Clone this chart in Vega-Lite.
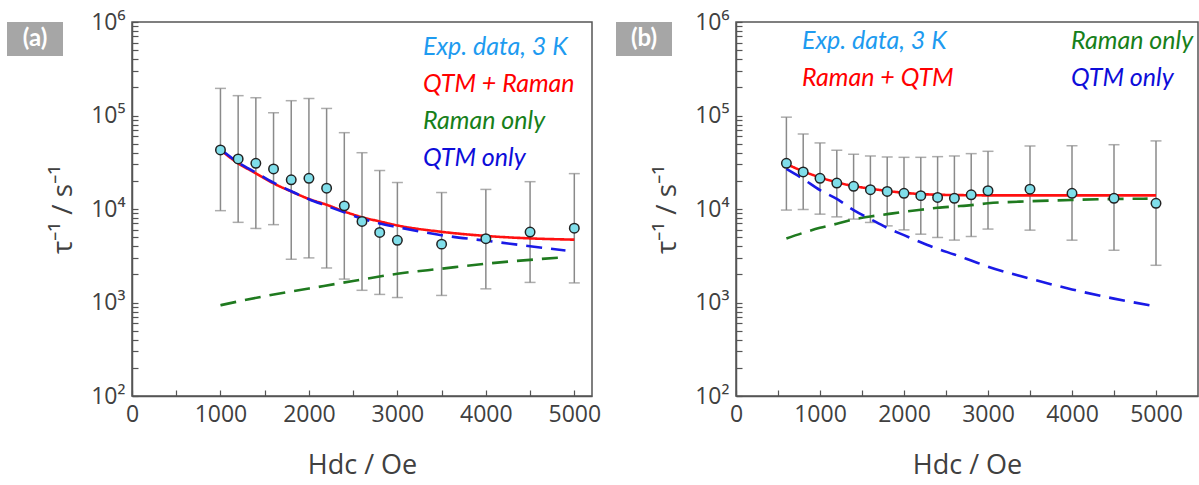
{
  "$schema": "https://vega.github.io/schema/vega-lite/v6.json",
  "background": "white",
  "padding": {"left": 7, "top": 10, "right": 1, "bottom": 5},
  "spacing": 14,
  "datasets": {
    "ptsA": [
      {"H": 1000, "tau": 42800, "lo": 9600, "hi": 195000, "series": "Exp. data, 3 K"},
      {"H": 1200, "tau": 34300, "lo": 7200, "hi": 163000, "series": "Exp. data, 3 K"},
      {"H": 1400, "tau": 30800, "lo": 6200, "hi": 155000, "series": "Exp. data, 3 K"},
      {"H": 1600, "tau": 26800, "lo": 6800, "hi": 107000, "series": "Exp. data, 3 K"},
      {"H": 1800, "tau": 20500, "lo": 2900, "hi": 144000, "series": "Exp. data, 3 K"},
      {"H": 2000, "tau": 21300, "lo": 3000, "hi": 152000, "series": "Exp. data, 3 K"},
      {"H": 2200, "tau": 16700, "lo": 2340, "hi": 119000, "series": "Exp. data, 3 K"},
      {"H": 2400, "tau": 10800, "lo": 1780, "hi": 65500, "series": "Exp. data, 3 K"},
      {"H": 2600, "tau": 7360, "lo": 1350, "hi": 40000, "series": "Exp. data, 3 K"},
      {"H": 2800, "tau": 5610, "lo": 1220, "hi": 25800, "series": "Exp. data, 3 K"},
      {"H": 3000, "tau": 4620, "lo": 1130, "hi": 19200, "series": "Exp. data, 3 K"},
      {"H": 3500, "tau": 4210, "lo": 1190, "hi": 15000, "series": "Exp. data, 3 K"},
      {"H": 4000, "tau": 4810, "lo": 1400, "hi": 16200, "series": "Exp. data, 3 K"},
      {"H": 4500, "tau": 5660, "lo": 1640, "hi": 19600, "series": "Exp. data, 3 K"},
      {"H": 5000, "tau": 6240, "lo": 1620, "hi": 23900, "series": "Exp. data, 3 K"}
    ],
    "fitA": [
      {"H": 1000, "tau": 42900, "series": "QTM + Raman"},
      {"H": 1200, "tau": 30800, "series": "QTM + Raman"},
      {"H": 1400, "tau": 24100, "series": "QTM + Raman"},
      {"H": 1600, "tau": 18800, "series": "QTM + Raman"},
      {"H": 1800, "tau": 15400, "series": "QTM + Raman"},
      {"H": 2000, "tau": 12800, "series": "QTM + Raman"},
      {"H": 2200, "tau": 11100, "series": "QTM + Raman"},
      {"H": 2400, "tau": 9400, "series": "QTM + Raman"},
      {"H": 2600, "tau": 8180, "series": "QTM + Raman"},
      {"H": 2800, "tau": 7360, "series": "QTM + Raman"},
      {"H": 3000, "tau": 6670, "series": "QTM + Raman"},
      {"H": 3500, "tau": 5700, "series": "QTM + Raman"},
      {"H": 4000, "tau": 5150, "series": "QTM + Raman"},
      {"H": 4500, "tau": 4850, "series": "QTM + Raman"},
      {"H": 5000, "tau": 4700, "series": "QTM + Raman"},
      {"H": 1000, "tau": 935, "series": "Raman only"},
      {"H": 1500, "tau": 1170, "series": "Raman only"},
      {"H": 2000, "tau": 1410, "series": "Raman only"},
      {"H": 2500, "tau": 1700, "series": "Raman only"},
      {"H": 3000, "tau": 2030, "series": "Raman only"},
      {"H": 3500, "tau": 2300, "series": "Raman only"},
      {"H": 4000, "tau": 2600, "series": "Raman only"},
      {"H": 4500, "tau": 2860, "series": "Raman only"},
      {"H": 4900, "tau": 3050, "series": "Raman only"},
      {"H": 1000, "tau": 43500, "series": "QTM only"},
      {"H": 1200, "tau": 31500, "series": "QTM only"},
      {"H": 1400, "tau": 24500, "series": "QTM only"},
      {"H": 1600, "tau": 19100, "series": "QTM only"},
      {"H": 1800, "tau": 15500, "series": "QTM only"},
      {"H": 2000, "tau": 12700, "series": "QTM only"},
      {"H": 2200, "tau": 10800, "series": "QTM only"},
      {"H": 2400, "tau": 9200, "series": "QTM only"},
      {"H": 2600, "tau": 7900, "series": "QTM only"},
      {"H": 2800, "tau": 7000, "series": "QTM only"},
      {"H": 3000, "tau": 6400, "series": "QTM only"},
      {"H": 3500, "tau": 5250, "series": "QTM only"},
      {"H": 4000, "tau": 4580, "series": "QTM only"},
      {"H": 4500, "tau": 4000, "series": "QTM only"},
      {"H": 4900, "tau": 3600, "series": "QTM only"}
    ],
    "ptsB": [
      {"H": 600, "tau": 30800, "lo": 9740, "hi": 96000, "series": "Exp. data, 3 K"},
      {"H": 800, "tau": 24900, "lo": 9900, "hi": 63500, "series": "Exp. data, 3 K"},
      {"H": 1000, "tau": 21300, "lo": 8810, "hi": 50900, "series": "Exp. data, 3 K"},
      {"H": 1200, "tau": 18950, "lo": 8240, "hi": 42500, "series": "Exp. data, 3 K"},
      {"H": 1400, "tau": 17500, "lo": 7800, "hi": 38500, "series": "Exp. data, 3 K"},
      {"H": 1600, "tau": 16100, "lo": 7180, "hi": 36900, "series": "Exp. data, 3 K"},
      {"H": 1800, "tau": 15400, "lo": 6600, "hi": 36000, "series": "Exp. data, 3 K"},
      {"H": 2000, "tau": 14700, "lo": 5980, "hi": 35700, "series": "Exp. data, 3 K"},
      {"H": 2200, "tau": 13900, "lo": 5380, "hi": 35700, "series": "Exp. data, 3 K"},
      {"H": 2400, "tau": 13300, "lo": 4960, "hi": 36300, "series": "Exp. data, 3 K"},
      {"H": 2600, "tau": 13000, "lo": 4650, "hi": 36900, "series": "Exp. data, 3 K"},
      {"H": 2800, "tau": 14200, "lo": 5080, "hi": 39100, "series": "Exp. data, 3 K"},
      {"H": 3000, "tau": 15700, "lo": 6100, "hi": 41400, "series": "Exp. data, 3 K"},
      {"H": 3500, "tau": 16300, "lo": 5940, "hi": 47200, "series": "Exp. data, 3 K"},
      {"H": 4000, "tau": 14700, "lo": 4640, "hi": 47500, "series": "Exp. data, 3 K"},
      {"H": 4500, "tau": 13000, "lo": 3620, "hi": 48700, "series": "Exp. data, 3 K"},
      {"H": 5000, "tau": 11500, "lo": 2500, "hi": 53500, "series": "Exp. data, 3 K"}
    ],
    "fitB": [
      {"H": 600, "tau": 30300, "series": "Raman + QTM"},
      {"H": 800, "tau": 25300, "series": "Raman + QTM"},
      {"H": 1000, "tau": 21800, "series": "Raman + QTM"},
      {"H": 1200, "tau": 19300, "series": "Raman + QTM"},
      {"H": 1400, "tau": 17600, "series": "Raman + QTM"},
      {"H": 1600, "tau": 16500, "series": "Raman + QTM"},
      {"H": 1800, "tau": 15600, "series": "Raman + QTM"},
      {"H": 2000, "tau": 14900, "series": "Raman + QTM"},
      {"H": 2200, "tau": 14450, "series": "Raman + QTM"},
      {"H": 2400, "tau": 14200, "series": "Raman + QTM"},
      {"H": 2600, "tau": 14100, "series": "Raman + QTM"},
      {"H": 3000, "tau": 14000, "series": "Raman + QTM"},
      {"H": 4000, "tau": 14000, "series": "Raman + QTM"},
      {"H": 5000, "tau": 14000, "series": "Raman + QTM"},
      {"H": 600, "tau": 4830, "series": "Raman only"},
      {"H": 800, "tau": 5560, "series": "Raman only"},
      {"H": 1000, "tau": 6290, "series": "Raman only"},
      {"H": 1200, "tau": 6950, "series": "Raman only"},
      {"H": 1400, "tau": 7730, "series": "Raman only"},
      {"H": 1600, "tau": 8320, "series": "Raman only"},
      {"H": 1800, "tau": 8810, "series": "Raman only"},
      {"H": 2000, "tau": 9330, "series": "Raman only"},
      {"H": 2200, "tau": 9810, "series": "Raman only"},
      {"H": 2400, "tau": 10300, "series": "Raman only"},
      {"H": 2600, "tau": 10640, "series": "Raman only"},
      {"H": 2800, "tau": 10990, "series": "Raman only"},
      {"H": 3000, "tau": 11500, "series": "Raman only"},
      {"H": 3500, "tau": 12100, "series": "Raman only"},
      {"H": 4000, "tau": 12500, "series": "Raman only"},
      {"H": 4500, "tau": 12800, "series": "Raman only"},
      {"H": 4900, "tau": 12900, "series": "Raman only"},
      {"H": 600, "tau": 26800, "series": "QTM only"},
      {"H": 800, "tau": 20900, "series": "QTM only"},
      {"H": 1000, "tau": 15900, "series": "QTM only"},
      {"H": 1200, "tau": 12800, "series": "QTM only"},
      {"H": 1400, "tau": 9730, "series": "QTM only"},
      {"H": 1600, "tau": 7800, "series": "QTM only"},
      {"H": 1800, "tau": 6290, "series": "QTM only"},
      {"H": 2000, "tau": 5250, "series": "QTM only"},
      {"H": 2200, "tau": 4410, "series": "QTM only"},
      {"H": 2400, "tau": 3750, "series": "QTM only"},
      {"H": 2600, "tau": 3260, "series": "QTM only"},
      {"H": 2800, "tau": 2810, "series": "QTM only"},
      {"H": 3000, "tau": 2420, "series": "QTM only"},
      {"H": 3500, "tau": 1800, "series": "QTM only"},
      {"H": 4000, "tau": 1380, "series": "QTM only"},
      {"H": 4500, "tau": 1100, "series": "QTM only"},
      {"H": 5000, "tau": 910, "series": "QTM only"}
    ],
    "labA": [{"label": "(a)"}],
    "labB": [{"label": "(b)"}]
  },
  "hconcat": [
    {
      "spacing": -15,
      "hconcat": [
        {
          "width": 56, "height": 34,
          "data": {"name": "labA"},
          "view": {"stroke": null},
          "layer": [
            {"mark": {"type": "rect", "color": "#a6a6a6"}, "encoding": {}},
            {"mark": {"type": "text", "color": "white", "font": "Lato", "fontSize": 24, "fontWeight": "bold"}, "encoding": {"text": {"field": "label"}}}
          ]
        },
        {
          "width": 460, "height": 374,
          "layer": [
            {
              "data": {"name": "ptsA"},
              "mark": {"type": "rule", "color": "#8a8a8a", "strokeWidth": 1.5},
              "encoding": {
                "x": {"field": "H", "type": "quantitative", "scale": {"domain": [0, 5200], "nice": false},
                  "axis": {"values": [0, 500, 1000, 1500, 2000, 2500, 3000, 3500, 4000, 4500, 5000], "format": "d", "labelExpr": "datum.value % 1000 == 0 ? datum.label : ''", "title": "Hdc / Oe", "titlePadding": 26}},
                "y": {"field": "lo", "type": "quantitative", "scale": {"type": "log", "domain": [100, 1000000], "nice": false},
                  "axis": {"values": [100, 200, 300, 400, 500, 600, 700, 800, 900, 1000, 2000, 3000, 4000, 5000, 6000, 7000, 8000, 9000, 10000, 20000, 30000, 40000, 50000, 60000, 70000, 80000, 90000, 100000, 200000, 300000, 400000, 500000, 600000, 700000, 800000, 900000, 1000000],
                    "labelExpr": "datum.value == 100 ? '10²' : datum.value == 1000 ? '10³' : datum.value == 10000 ? '10⁴' : datum.value == 100000 ? '10⁵' : datum.value == 1000000 ? '10⁶' : ''",
                    "title": "τ⁻¹ / s⁻¹", "titlePadding": 13, "titleFontSize": 28}},
                "y2": {"field": "hi"}
              }
            },
            {
              "data": {"name": "ptsA"},
              "mark": {"type": "tick", "orient": "horizontal", "color": "#8a8a8a", "size": 11, "thickness": 1.5},
              "encoding": {"x": {"field": "H", "type": "quantitative"}, "y": {"field": "lo", "type": "quantitative"}}
            },
            {
              "data": {"name": "ptsA"},
              "mark": {"type": "tick", "orient": "horizontal", "color": "#8a8a8a", "size": 11, "thickness": 1.5},
              "encoding": {"x": {"field": "H", "type": "quantitative"}, "y": {"field": "hi", "type": "quantitative"}}
            },
            {
              "data": {"name": "fitA"},
              "mark": {"type": "line", "interpolate": "monotone", "strokeWidth": 2.6},
              "encoding": {
                "x": {"field": "H", "type": "quantitative"},
                "y": {"field": "tau", "type": "quantitative"},
                "color": {"field": "series", "type": "nominal",
                  "scale": {"domain": ["Exp. data, 3 K", "QTM + Raman", "Raman only", "QTM only"], "range": ["#80deea", "#ff1010", "#1f7a1f", "#1a1ae6"]},
                  "legend": {"title": null, "orient": "none", "legendX": 391, "legendY": 12,
                    "labelColor": {"expr": "datum.label == 'Exp. data, 3 K' ? '#1e9bf0' : datum.label == 'Raman only' ? '#17801a' : datum.label == 'QTM only' ? '#0d0dd9' : '#ff0000'"}}},
                "strokeDash": {"field": "series", "type": "nominal",
                  "scale": {"domain": ["QTM + Raman", "Raman only", "QTM only"], "range": [[1, 0], [16, 9], [16, 9]]}, "legend": null}
              }
            },
            {
              "data": {"name": "ptsA"},
              "mark": {"type": "point", "filled": true, "size": 90, "stroke": "#222222", "strokeWidth": 1.5, "opacity": 1},
              "encoding": {
                "x": {"field": "H", "type": "quantitative"},
                "y": {"field": "tau", "type": "quantitative"},
                "color": {"field": "series", "type": "nominal"}
              }
            }
          ]
        }
      ]
    },
    {
      "spacing": -20,
      "hconcat": [
        {
          "width": 56, "height": 34,
          "data": {"name": "labB"},
          "view": {"stroke": null},
          "layer": [
            {"mark": {"type": "rect", "color": "#a6a6a6"}, "encoding": {}},
            {"mark": {"type": "text", "color": "white", "font": "Lato", "fontSize": 24, "fontWeight": "bold"}, "encoding": {"text": {"field": "label"}}}
          ]
        },
        {
          "width": 462, "height": 374,
          "layer": [
            {
              "data": {"name": "ptsB"},
              "mark": {"type": "rule", "color": "#8a8a8a", "strokeWidth": 1.5},
              "encoding": {
                "x": {"field": "H", "type": "quantitative", "scale": {"domain": [0, 5500], "nice": false},
                  "axis": {"values": [0, 500, 1000, 1500, 2000, 2500, 3000, 3500, 4000, 4500, 5000], "format": "d", "labelExpr": "datum.value % 1000 == 0 ? datum.label : ''", "title": "Hdc / Oe", "titlePadding": 26}},
                "y": {"field": "lo", "type": "quantitative", "scale": {"type": "log", "domain": [100, 1000000], "nice": false},
                  "axis": {"values": [100, 200, 300, 400, 500, 600, 700, 800, 900, 1000, 2000, 3000, 4000, 5000, 6000, 7000, 8000, 9000, 10000, 20000, 30000, 40000, 50000, 60000, 70000, 80000, 90000, 100000, 200000, 300000, 400000, 500000, 600000, 700000, 800000, 900000, 1000000],
                    "labelExpr": "datum.value == 100 ? '10²' : datum.value == 1000 ? '10³' : datum.value == 10000 ? '10⁴' : datum.value == 100000 ? '10⁵' : datum.value == 1000000 ? '10⁶' : ''",
                    "title": "τ⁻¹ / s⁻¹", "titlePadding": 13, "titleFontSize": 28}},
                "y2": {"field": "hi"}
              }
            },
            {
              "data": {"name": "ptsB"},
              "mark": {"type": "tick", "orient": "horizontal", "color": "#8a8a8a", "size": 11, "thickness": 1.5},
              "encoding": {"x": {"field": "H", "type": "quantitative"}, "y": {"field": "lo", "type": "quantitative"}}
            },
            {
              "data": {"name": "ptsB"},
              "mark": {"type": "tick", "orient": "horizontal", "color": "#8a8a8a", "size": 11, "thickness": 1.5},
              "encoding": {"x": {"field": "H", "type": "quantitative"}, "y": {"field": "hi", "type": "quantitative"}}
            },
            {
              "data": {"name": "fitB"},
              "mark": {"type": "line", "interpolate": "monotone", "strokeWidth": 2.6},
              "encoding": {
                "x": {"field": "H", "type": "quantitative"},
                "y": {"field": "tau", "type": "quantitative"},
                "color": {"field": "series", "type": "nominal",
                  "scale": {"domain": ["Exp. data, 3 K", "Raman + QTM", "Raman only", "QTM only"], "range": ["#80deea", "#ff1010", "#1f7a1f", "#1a1ae6"]},
                  "legend": {"title": null, "orient": "none", "legendX": 161, "legendY": 6, "columns": 2, "columnPadding": 92,
                    "labelColor": {"expr": "datum.label == 'Exp. data, 3 K' ? '#1e9bf0' : datum.label == 'Raman only' ? '#17801a' : datum.label == 'QTM only' ? '#0d0dd9' : '#ff0000'"}}},
                "strokeDash": {"field": "series", "type": "nominal",
                  "scale": {"domain": ["Raman + QTM", "Raman only", "QTM only"], "range": [[1, 0], [16, 9], [16, 9]]}, "legend": null}
              }
            },
            {
              "data": {"name": "ptsB"},
              "mark": {"type": "point", "filled": true, "size": 90, "stroke": "#222222", "strokeWidth": 1.5, "opacity": 1},
              "encoding": {
                "x": {"field": "H", "type": "quantitative"},
                "y": {"field": "tau", "type": "quantitative"},
                "color": {"field": "series", "type": "nominal"}
              }
            }
          ]
        }
      ]
    }
  ],
  "resolve": {
    "scale": {"x": "independent", "y": "independent", "color": "independent", "strokeDash": "independent"},
    "legend": {"color": "independent"}
  },
  "config": {
    "view": {"stroke": "#555555", "strokeWidth": 1.5},
    "axis": {
      "grid": false,
      "domainColor": "#555555", "domainWidth": 1.5,
      "tickColor": "#555555", "tickWidth": 1.2, "tickSize": -6,
      "labelPadding": 13, "labelFlush": false, "labelOverlap": false,
      "labelFont": "Open Sans", "labelFontSize": 23, "labelColor": "#404040",
      "titleFont": "Open Sans", "titleFontSize": 27, "titleFontWeight": "normal", "titleColor": "#404040"
    },
    "legend": {
      "labelFont": "Lato", "labelFontSize": 25, "labelFontStyle": "italic", "labelLimit": 400,
      "symbolSize": 0, "symbolOpacity": 0, "symbolStrokeWidth": 0, "labelOffset": 0,
      "rowPadding": 11, "padding": 0
    }
  }
}
